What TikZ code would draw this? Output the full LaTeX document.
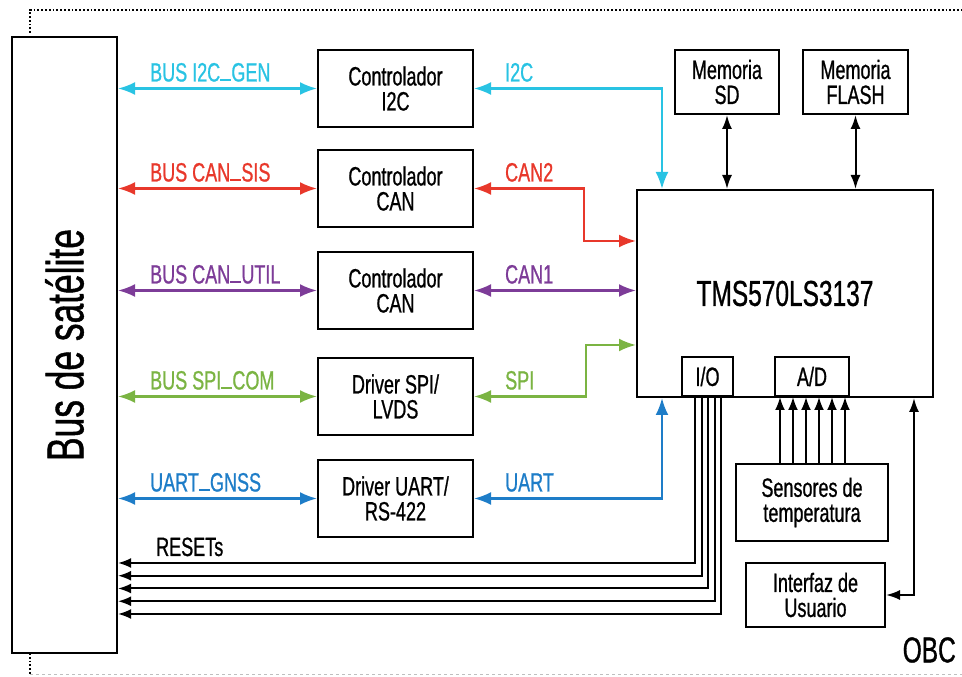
\documentclass[tikz,border=0pt]{standalone}
\usepackage{fontspec}
\setmainfont{Liberation Sans}[FakeStretch=0.68, FakeBold=0.8]
\usetikzlibrary{positioning, arrows.meta}

\definecolor{colI2C}{HTML}{29C3E3}
\definecolor{colCANs}{HTML}{E8382B}
\definecolor{colCANu}{HTML}{7D3C98}
\definecolor{colSPI}{HTML}{7BB443}
\definecolor{colUART}{HTML}{1E7DC8}
\newcommand{\ubar}{\rule{0.42em}{0.08em}}

\begin{document}
\begin{tikzpicture}[x=1pt, y=1pt,
        blk/.style={draw, line width=2pt, align=center, inner sep=0pt, font=\fontsize{26.5}{25}\selectfont},
        ctrl/.style={blk, minimum width=155pt, minimum height=77pt},
        lbl/.style={font=\fontsize{26.5}{25}\selectfont, inner sep=0pt, anchor=base west},
        bus/.style={{Latex[length=17pt,width=13pt]}-{Latex[length=17pt,width=13pt]}, line width=2.3pt},
        sig/.style={-{Latex[length=13pt,width=10pt]}, line width=2pt},
        dsig/.style={{Latex[length=14pt,width=10pt]}-{Latex[length=14pt,width=10pt]}, line width=2pt}
    ]
    \useasboundingbox (0,0) rectangle (962,677);

    % OBC frame
    \draw[dotted, line width=1.8pt] (30,644) |- (962,667);
    \draw[dotted, line width=1.8pt] (30,24) -- (30,2);
    \draw[dashed, gray!50, line width=1pt] (30,2) -- (962,2);
    \node[font=\fontsize{36}{36}\selectfont, anchor=east, inner sep=0pt] (obc) at (956,27) {OBC};

    % satellite bus
    \node[blk, minimum width=105pt, minimum height=616pt] (bus) at (64.5,332) {};
    \node[rotate=90, font=\fontsize{52}{52}\selectfont] (buslbl) at (bus.center) {Bus de satélite};

    % controllers and drivers
    \node[ctrl] (ci2c) at (395.5,588.5) {Controlador\\I2C};
    \node[ctrl, below=21pt of ci2c] (ccans) {Controlador\\CAN};
    \node[ctrl, below=23pt of ccans] (ccanu) {Controlador\\CAN};
    \node[ctrl, below=27pt of ccanu] (dspi) {Driver SPI/\\LVDS};
    \node[ctrl, below=23pt of dspi] (duart) {Driver UART/\\RS-422};

    % microcontroller and memories
    \node[blk, minimum width=296pt, minimum height=207pt, font=\fontsize{36}{36}\selectfont] (tms) at (785,383.5) {TMS570LS3137};
    \node[blk, minimum width=104pt, minimum height=64pt] (sd) at (727,595) {Memoria\\SD};
    \node[blk, minimum width=105pt, minimum height=64pt, right=22pt of sd] (flash) {Memoria\\FLASH};
    \node[blk, minimum width=51pt, minimum height=39pt, anchor=south] (io) at (707.5,280) {I/O};
    \node[blk, minimum width=74pt, minimum height=39pt, anchor=south] (ad) at (812,280) {A/D};
    \node[blk, minimum width=152pt, minimum height=77pt] (sens) at (812,174.5) {Sensores de\\temperatura};
    \node[blk, minimum width=139pt, minimum height=64pt] (uif) at (815.5,82) {Interfaz de\\Usuario};

    % buses to the satellite
    \draw[bus, colI2C] (bus.east |- ci2c) -- node[lbl, at start, xshift=31pt, yshift=7pt] {BUS I2C\ubar GEN} (ci2c.west);
    \draw[bus, colCANs] (bus.east |- ccans) -- node[lbl, at start, xshift=31pt, yshift=7pt] {BUS CAN\ubar SIS} (ccans.west);
    \draw[bus, colCANu] (bus.east |- ccanu) -- node[lbl, at start, xshift=31pt, yshift=7pt] {BUS CAN\ubar UTIL} (ccanu.west);
    \draw[bus, colSPI] (bus.east |- dspi) -- node[lbl, at start, xshift=31pt, yshift=7pt] {BUS SPI\ubar COM} (dspi.west);
    \draw[bus, colUART] (bus.east |- duart) -- node[lbl, at start, xshift=31pt, yshift=7pt] {UART\ubar GNSS} (duart.west);

    % links to the microcontroller
    \draw[bus, colI2C] (ci2c.east) node[lbl, xshift=30pt, yshift=7pt] {I2C} -| ([xshift=26pt]tms.north west);
    \draw[bus, colCANs] (ccans.east) node[lbl, xshift=30pt, yshift=7pt] {CAN2} -- ++(110,0) |- ([yshift=-52pt]tms.north west);
    \draw[bus, colCANu] (ccanu.east) node[lbl, xshift=30pt, yshift=7pt] {CAN1} -- (ccanu.east -| tms.west);
    \draw[bus, colSPI] (dspi.east) node[lbl, xshift=30pt, yshift=7pt] {SPI} -- ++(112,0) |- ([yshift=53pt]tms.south west);
    \draw[bus, colUART] (duart.east) node[lbl, xshift=30pt, yshift=7pt] {UART} -| ([xshift=26pt]tms.south west);

    \draw[dsig] (sd.south) -- (sd.south |- tms.north);
    \draw[dsig] (flash.south) -- (flash.south |- tms.north);
    \draw[dsig] ([xshift=-20pt]tms.south east) |- (uif.east);

    % temperature sensors
    \foreach \i in {0,...,5}
        \draw[sig] ([xshift={\i*13pt-32pt}]sens.north) coordinate (s) -- (s |- ad.south);

    % resets
    \foreach \i in {0,...,4}{
        \coordinate (r\i) at (0,{114-12.75*\i});
        \draw[sig] ([xshift={\i*6.5pt-12.5pt}]io.south) |- (bus.east |- r\i);
    }
    \node[lbl] (rst) at ([xshift=38pt, yshift=7pt]bus.east |- r0) {RESETs};
\end{tikzpicture}
\end{document}
